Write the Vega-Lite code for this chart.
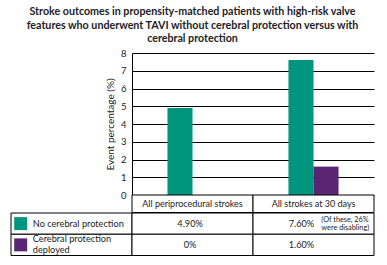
{
  "$schema": "https://vega.github.io/schema/vega-lite/v6.json",
  "padding": {"left": 10, "top": 6, "right": 5, "bottom": 5},
  "background": "white",
  "config": {
    "font": "Lato",
    "view": {"stroke": null}
  },
  "title": {
    "text": ["Stroke outcomes in propensity-matched patients with high-risk valve", "features who underwent TAVI without cerebral protection versus with", "cerebral protection"],
    "fontSize": 10.7,
    "fontWeight": "bold",
    "color": "#222222",
    "lineHeight": 13.6,
    "anchor": "middle",
    "offset": 3
  },
  "datasets": {
    "bars": [
      {"category": "All periprocedural strokes", "group": "No cerebral protection", "value": 4.9},
      {"category": "All periprocedural strokes", "group": "Cerebral protection deployed", "value": 0},
      {"category": "All strokes at 30 days", "group": "No cerebral protection", "value": 7.6},
      {"category": "All strokes at 30 days", "group": "Cerebral protection deployed", "value": 1.6}
    ],
    "table": [
      {"row": "No cerebral protection", "col": "label", "text": "No cerebral protection"},
      {"row": "No cerebral protection", "col": "All periprocedural strokes", "text": "4.90%"},
      {"row": "No cerebral protection", "col": "All strokes at 30 days", "text": "7.60%", "note": ["(Of these, 26%", "were disabling)"]},
      {"row": "Cerebral protection deployed", "col": "label", "text": ["Cerebral protection", "deployed"]},
      {"row": "Cerebral protection deployed", "col": "All periprocedural strokes", "text": "0%"},
      {"row": "Cerebral protection deployed", "col": "All strokes at 30 days", "text": "1.60%"}
    ]
  },
  "columns": 2,
  "align": "each",
  "bounds": "flush",
  "spacing": {"row": 0, "column": 0},
  "concat": [
    {
      "width": 121,
      "height": 142,
      "data": {"values": []},
      "mark": {"type": "text"},
      "encoding": {}
    },
    {
      "width": 242,
      "height": 142,
      "data": {"name": "bars"},
      "mark": {"type": "bar"},
      "encoding": {
        "x": {
          "field": "category", "type": "nominal",
          "sort": ["All periprocedural strokes", "All strokes at 30 days"],
          "scale": {"paddingInner": 0.586, "paddingOuter": 0.293},
          "axis": null
        },
        "xOffset": {
          "field": "group", "type": "nominal",
          "sort": ["No cerebral protection", "Cerebral protection deployed"],
          "scale": {"paddingInner": 0, "paddingOuter": 0}
        },
        "y": {
          "field": "value", "type": "quantitative",
          "scale": {"domain": [0, 8], "nice": false},
          "axis": {
            "title": "Event percentage (%)", "titleFontSize": 10, "titleFontWeight": "normal",
            "titleColor": "#222222", "titlePadding": 5,
            "values": [0, 1, 2, 3, 4, 5, 6, 7, 8],
            "grid": true, "gridColor": "black", "gridWidth": 1, "gridOpacity": 1,
            "domain": true, "domainColor": "black", "ticks": false,
            "labelFontSize": 9.5, "labelColor": "#222222", "labelPadding": 6
          }
        },
        "color": {
          "field": "group", "type": "nominal",
          "scale": {"domain": ["No cerebral protection", "Cerebral protection deployed"], "range": ["#00957f", "#5a2674"]},
          "legend": null
        }
      }
    },
    {
      "width": 121,
      "height": 17.5,
      "data": {"values": []},
      "mark": {"type": "text"},
      "encoding": {}
    },
    {
      "width": 242,
      "height": 17.5,
      "data": {"name": "bars"},
      "transform": [{"aggregate": [{"op": "count", "as": "n"}], "groupby": ["category"]}],
      "encoding": {
        "x": {
          "field": "category", "type": "nominal",
          "sort": ["All periprocedural strokes", "All strokes at 30 days"],
          "scale": {"paddingInner": 0, "paddingOuter": 0},
          "axis": null
        }
      },
      "layer": [
        {"mark": {"type": "rect", "fill": "white", "stroke": "black", "strokeWidth": 1}},
        {
          "mark": {"type": "text", "align": "center", "fontSize": 9, "color": "#222222"},
          "encoding": {"text": {"field": "category"}}
        }
      ]
    },
    {
      "width": 121,
      "height": 42.5,
      "data": {"name": "table"},
      "transform": [{"filter": "datum.col === 'label'"}],
      "encoding": {
        "x": {
          "field": "col", "type": "nominal",
          "scale": {"paddingInner": 0, "paddingOuter": 0},
          "axis": null
        },
        "y": {
          "field": "row", "type": "nominal",
          "sort": ["No cerebral protection", "Cerebral protection deployed"],
          "scale": {"paddingInner": 0, "paddingOuter": 0},
          "axis": null
        }
      },
      "layer": [
        {"mark": {"type": "rect", "fill": "white", "stroke": "black", "strokeWidth": 1}},
        {
          "mark": {"type": "square", "size": 169, "opacity": 1},
          "encoding": {
            "x": {"field": "col", "type": "nominal", "bandPosition": 0.08},
            "color": {
              "field": "row", "type": "nominal",
              "scale": {"domain": ["No cerebral protection", "Cerebral protection deployed"], "range": ["#00957f", "#5a2674"]},
              "legend": null
            }
          }
        },
        {
          "transform": [{"filter": "!isArray(datum.text)"}],
          "mark": {"type": "text", "align": "left", "fontSize": 9.2, "color": "#222222"},
          "encoding": {
            "x": {"field": "col", "type": "nominal", "bandPosition": 0.18},
            "text": {"field": "text"}
          }
        },
        {
          "transform": [{"filter": "isArray(datum.text)"}],
          "mark": {"type": "text", "align": "left", "fontSize": 9.2, "color": "#222222", "lineHeight": 11, "dy": -5.5},
          "encoding": {
            "x": {"field": "col", "type": "nominal", "bandPosition": 0.18},
            "text": {"field": "text"}
          }
        }
      ]
    },
    {
      "width": 242,
      "height": 42.5,
      "data": {"name": "table"},
      "transform": [{"filter": "datum.col !== 'label'"}],
      "encoding": {
        "x": {
          "field": "col", "type": "nominal",
          "sort": ["All periprocedural strokes", "All strokes at 30 days"],
          "scale": {"paddingInner": 0, "paddingOuter": 0},
          "axis": null
        },
        "y": {
          "field": "row", "type": "nominal",
          "sort": ["No cerebral protection", "Cerebral protection deployed"],
          "scale": {"paddingInner": 0, "paddingOuter": 0},
          "axis": null
        }
      },
      "layer": [
        {"mark": {"type": "rect", "fill": "white", "stroke": "black", "strokeWidth": 1}},
        {
          "transform": [{"filter": "datum.col === 'All periprocedural strokes'"}],
          "mark": {"type": "text", "align": "center", "fontSize": 9.2, "color": "#222222"},
          "encoding": {
            "x": {"field": "col", "type": "nominal", "bandPosition": 0.48},
            "text": {"field": "text"}
          }
        },
        {
          "transform": [{"filter": "datum.col === 'All strokes at 30 days'"}],
          "mark": {"type": "text", "align": "center", "fontSize": 9.2, "color": "#222222"},
          "encoding": {
            "x": {"field": "col", "type": "nominal", "bandPosition": 0.4},
            "text": {"field": "text"}
          }
        },
        {
          "transform": [{"filter": "isValid(datum.note)"}],
          "mark": {"type": "text", "align": "left", "fontSize": 7.3, "color": "#222222", "lineHeight": 7.5, "dy": -3.5},
          "encoding": {
            "x": {"field": "col", "type": "nominal", "bandPosition": 0.565},
            "text": {"field": "note"}
          }
        }
      ]
    }
  ]
}
